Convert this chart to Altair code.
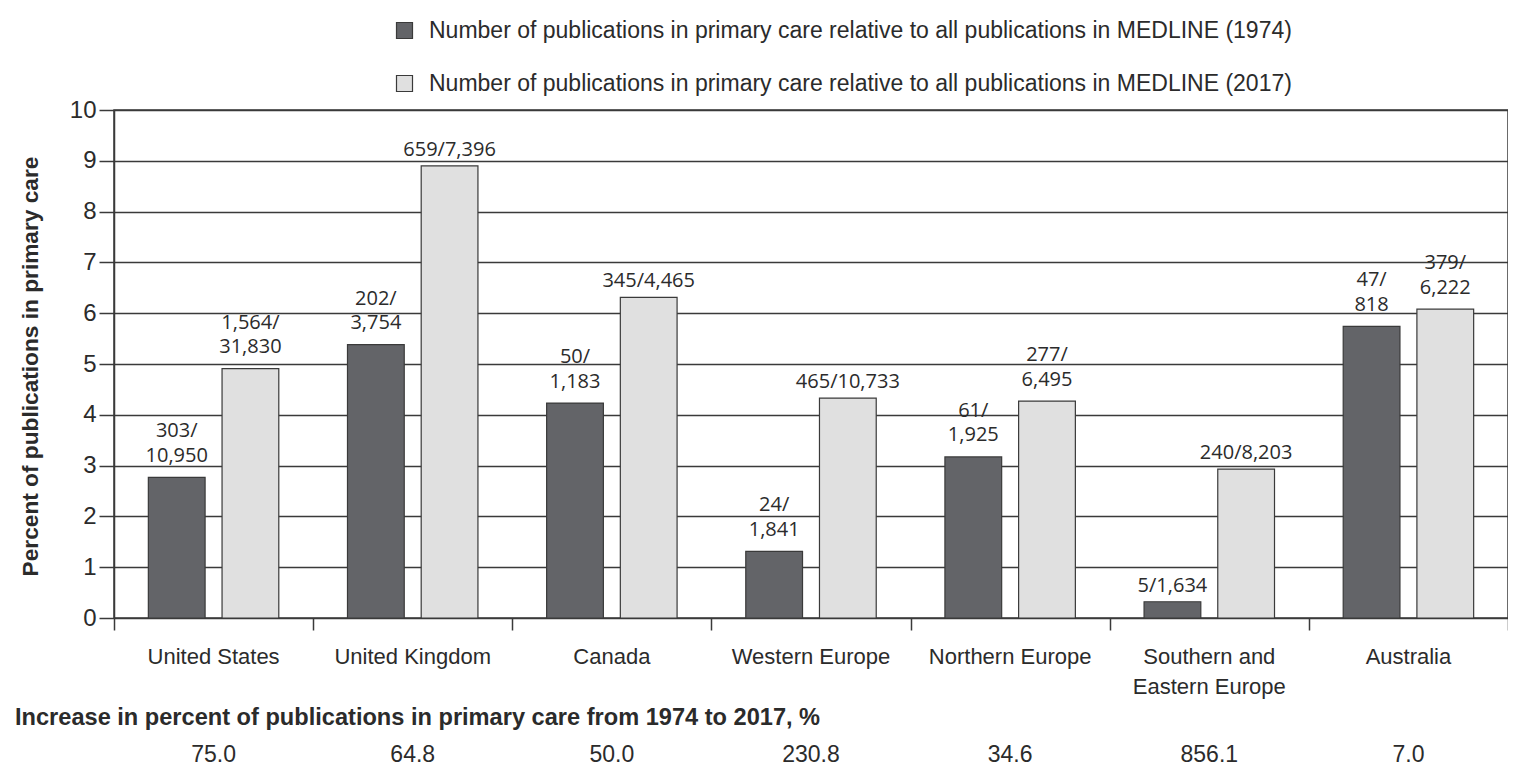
import altair as alt
import pandas as pd

categories = ["United States", "United Kingdom", "Canada", "Western Europe",
              "Northern Europe", "Southern and Eastern Europe", "Australia"]
category_labels = ["United States", "United Kingdom", "Canada", "Western Europe",
                   "Northern Europe", "Southern and\nEastern Europe", "Australia"]
series = ["Number of publications in primary care relative to all publications in MEDLINE (1974)",
          "Number of publications in primary care relative to all publications in MEDLINE (2017)"]
pct_1974 = [2.77, 5.38, 4.23, 1.31, 3.17, 0.32, 5.74]
pct_2017 = [4.91, 8.90, 6.31, 4.33, 4.27, 2.93, 6.08]
labels_1974 = ["303/\n10,950", "202/\n3,754", "50/\n1,183", "24/\n1,841",
               "61/\n1,925", "5/1,634", "47/\n818"]
labels_2017 = ["1,564/\n31,830", "659/7,396", "345/4,465", "465/10,733",
               "277/\n6,495", "240/8,203", "379/\n6,222"]
increase = ["75.0", "64.8", "50.0", "230.8", "34.6", "856.1", "7.0"]
increase_title = "Increase in percent of publications in primary care from 1974 to 2017, %"
y_title = "Percent of publications in primary care"
y_ticks = list(range(0, 11))

SANS = "Liberation Sans, Arial, sans-serif"
NUM = "Open Sans, sans-serif"
TXT = "#2b2b2b"
LINE = "#3a3a3a"

rows = []
for i, c in enumerate(categories):
    for s, v, lab in ((series[0], pct_1974[i], labels_1974[i]), (series[1], pct_2017[i], labels_2017[i])):
        rows.append({"category": c, "series": s, "value": v, "label": lab,
                     "nlines": len(lab.split("\n"))})
df = pd.DataFrame(rows)

cat_df = pd.DataFrame({"category": categories, "cat_label": category_labels, "increase": increase})
title_df = pd.DataFrame({"t": [increase_title]})

x_enc = alt.X("category:N", sort=categories,
              scale=alt.Scale(paddingInner=0, paddingOuter=0),
              axis=alt.Axis(labels=False, title=None, tickBand="extent", tickSize=12,
                            tickColor=LINE, tickWidth=1.5, domain=False, grid=False))
xoff = alt.XOffset("series:N", sort=series,
                   scale=alt.Scale(paddingInner=0.23, paddingOuter=0.466))
y_enc = alt.Y("value:Q", scale=alt.Scale(domain=[0, 10], nice=False),
              axis=alt.Axis(values=y_ticks, grid=True, gridColor=LINE, gridWidth=1.5,
                            tickSize=15, tickColor=LINE, tickWidth=1.5,
                            domainColor=LINE, domainWidth=1.5,
                            labelFont=SANS, labelFontSize=24, labelColor=TXT, labelPadding=3,
                            title=y_title, titleFont=SANS, titleFontSize=22.7,
                            titleFontWeight="bold", titleColor=TXT,
                            titleX=-84, titleY=256, titleAngle=270,
                            titleAlign="center", titleBaseline="middle"))

bars = alt.Chart(df).mark_bar(stroke=LINE, strokeWidth=1.2).encode(
    x=x_enc, xOffset=xoff, y=y_enc,
    color=alt.Color("series:N", sort=series,
                    scale=alt.Scale(domain=series, range=["#636468", "#e0e0e0"]),
                    legend=alt.Legend(title=None, orient="none", legendX=279, legendY=-91,
                                      padding=0, symbolType="square", symbolSize=256,
                                      symbolStrokeColor=LINE, symbolStrokeWidth=1.2,
                                      labelFont=SANS, labelFontSize=23, labelColor=TXT,
                                      labelOffset=13, labelLimit=2000, rowPadding=29))
)

label_base = alt.Chart(df).encode(
    x=alt.X("category:N", sort=categories), xOffset=alt.XOffset("series:N", sort=series),
    y="value:Q", text="label:N")
label_single = label_base.transform_filter("datum.nlines == 1").mark_text(
    baseline="alphabetic", dy=-10, font=NUM, fontSize=20, color=TXT)
label_double = label_base.transform_filter("datum.nlines == 2").mark_text(
    baseline="top", dy=-56, lineBreak="\n", lineHeight=24.5, font=NUM, fontSize=20, color=TXT)

cat_text = alt.Chart(cat_df).mark_text(baseline="top", lineBreak="\n", lineHeight=30,
                                       font=SANS, fontSize=22, color=TXT).encode(
    x=alt.X("category:N", sort=categories), y=alt.value(537), text="cat_label:N")

inc_text = alt.Chart(cat_df).mark_text(baseline="middle", font=SANS, fontSize=23,
                                       color=TXT).encode(
    x=alt.X("category:N", sort=categories), y=alt.value(645), text="increase:N")

inc_title = alt.Chart(title_df).mark_text(baseline="middle", align="left", font=SANS,
                                          fontSize=23.6, fontWeight="bold", color=TXT).encode(
    x=alt.value(-99), y=alt.value(608), text="t:N")

chart = alt.layer(bars, label_single, label_double, cat_text, inc_text, inc_title).properties(
    width=1394, height=508,
    autosize=alt.AutoSizeParams(type="none"),
    padding={"left": 106, "top": 102, "right": 0, "bottom": 154},
    background="white",
).configure_view(stroke=LINE, strokeWidth=1.5)

chart.save("out.html", embed_options={"renderer": "svg", "actions": False})
